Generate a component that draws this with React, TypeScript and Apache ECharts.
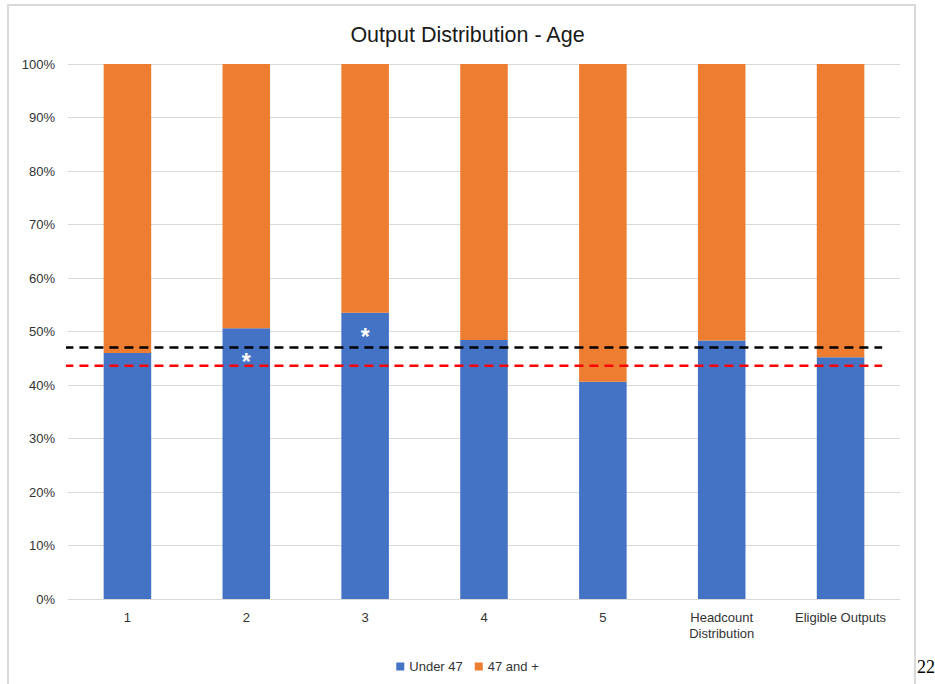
import React, { useEffect, useRef } from "react";
import * as echarts from "echarts";

const categories = ["1", "2", "3", "4", "5", "Headcount\nDistribution", "Eligible Outputs"];
const under47 = [46.0, 50.6, 53.5, 48.4, 40.6, 48.3, 45.2];
const over47 = under47.map((v) => +(100 - v).toFixed(1));
const blackRef = 47.0;
const redRef = 43.6;
const asteriskPos = ["-", 45.1, 49.7, "-", "-", "-", "-"];
const yTicks = { min: 0, max: 100, interval: 10 };

export default function App() {
  const ref = useRef<HTMLDivElement>(null);
  useEffect(() => {
    if (!ref.current) return;
    const chart = echarts.init(ref.current, null, { renderer: "svg" });
    const font = "'Liberation Sans', Arial, sans-serif";
    chart.setOption({
      animation: false,
      textStyle: { fontFamily: font },
      title: {
        text: "Output Distribution - Age",
        left: "center",
        top: 19,
        textStyle: { fontFamily: font, fontSize: 21.5, fontWeight: "normal", color: "#1a1a1a" },
      },
      legend: {
        data: ["Under 47", "47 and +"],
        left: "center",
        top: 655,
        icon: "rect",
        itemWidth: 8,
        itemHeight: 8,
        itemGap: 12,
        textStyle: { fontFamily: font, fontSize: 13, color: "#333" },
      },
      grid: { left: 68, right: 35, top: 64, bottom: 85, containLabel: false },
      xAxis: [
        {
          type: "category",
          data: categories,
          axisTick: { show: false },
          axisLine: { lineStyle: { color: "#d9d9d9", width: 1 } },
          axisLabel: { fontFamily: font, fontSize: 13, color: "#333", margin: 10, lineHeight: 16, interval: 0 },
        },
        { type: "value", min: 0, max: 7, show: false },
      ],
      yAxis: {
        type: "value",
        min: yTicks.min,
        max: yTicks.max,
        interval: yTicks.interval,
        axisLine: { show: false },
        axisTick: { show: false },
        splitLine: { lineStyle: { color: "#d9d9d9", width: 1 } },
        axisLabel: { formatter: "{value}%", fontFamily: font, fontSize: 13, color: "#333", margin: 13 },
      },
      series: [
        {
          name: "Under 47",
          type: "bar",
          stack: "total",
          data: under47,
          barWidth: "40%",
          itemStyle: { color: "#4472C4" },
        },
        {
          name: "47 and +",
          type: "bar",
          stack: "total",
          data: over47,
          barWidth: "40%",
          itemStyle: { color: "#ED7D31" },
        },
        {
          name: "ref-black",
          type: "line",
          xAxisIndex: 1,
          data: [[-0.03, blackRef], [6.85, blackRef]],
          symbol: "none",
          clip: false,
          lineStyle: { color: "#000", width: 2.5, type: [9, 6] },
          z: 5,
        },
        {
          name: "ref-red",
          type: "line",
          xAxisIndex: 1,
          data: [[-0.03, redRef], [6.85, redRef]],
          symbol: "none",
          clip: false,
          lineStyle: { color: "#ff0000", width: 2.5, type: [9, 6] },
          z: 5,
        },
        {
          name: "asterisk",
          type: "scatter",
          data: asteriskPos,
          symbol: "circle",
          symbolSize: 2,
          itemStyle: { color: "rgba(0,0,0,0)" },
          label: {
            show: true,
            formatter: "*",
            position: "inside",
            color: "#ffffff",
            opacity: 1,
            fontSize: 23,
            fontWeight: "bold",
            fontFamily: font,
            offset: [0, 4],
          },
          z: 6,
        },
      ],
      graphic: [
        {
          type: "rect",
          shape: { x: 8, y: 5, width: 907, height: 720 },
          style: { fill: "none", stroke: "#d9d9d9", lineWidth: 2 },
          silent: true,
          z: -1,
        },
        {
          type: "text",
          x: 917,
          y: 658,
          style: { text: "22", fontFamily: "'Liberation Serif', 'Times New Roman', serif", fontSize: 18, fill: "#000" },
        },
      ],
    });
    return () => chart.dispose();
  }, []);
  return <div ref={ref} style={{ position: "absolute", left: 0, top: 0, width: 935, height: 684 }} />;
}
